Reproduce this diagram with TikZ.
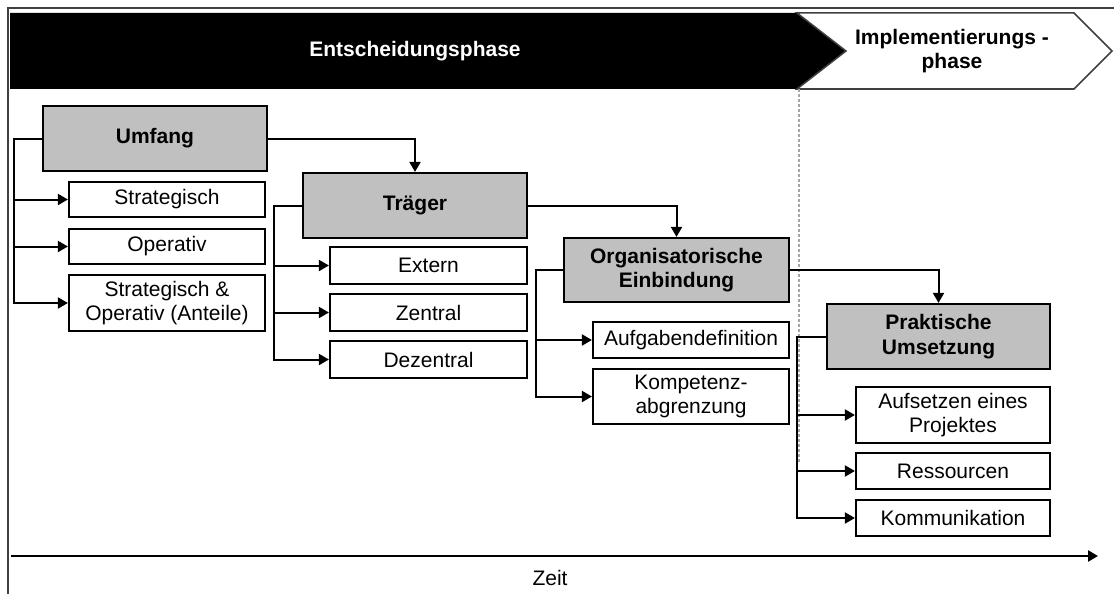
\documentclass[tikz,border=0pt]{standalone}
\usepackage{fontspec}
\setmainfont{Liberation Sans}
\usetikzlibrary{arrows.meta}
\definecolor{boxgray}{HTML}{C0C0C0}
\definecolor{framegray}{HTML}{404040}
\begin{document}
\begin{tikzpicture}[x=1pt,y=-1pt,
  txt/.style={font=\fontsize{21}{24.5}\selectfont},
  box/.style={draw=black, line width=2.2pt, fill=white, minimum width=196pt, inner sep=0pt, align=center, txt},
  head/.style={box, fill=boxgray, minimum width=224pt, minimum height=65pt, font=\bfseries\fontsize{21}{24.5}\selectfont},
  arr/.style={line width=2pt, -{Triangle[length=10pt,width=11pt]}},
]
\useasboundingbox (0,0) rectangle (1114,594);
% frame
\draw[line width=2pt, framegray] (8,594) -- (8,8) -- (1114,8);
% phase bar
\fill[black] (10,13) -- (797,13) -- (846,51) -- (797,89) -- (10,89) -- cycle;
\draw[framegray, line width=1.5pt, fill=white] (797,13) -- (1074,13) -- (1112,51) -- (1074,89) -- (797,89) -- (846,51) -- cycle;
\node[text=white, font=\bfseries\fontsize{21}{24.5}\selectfont] (ent) at (415,51) {Entscheidungsphase};
\node[align=center, font=\bfseries\fontsize{21}{24.5}\selectfont] (imp) at (952,51) {Implementierungs -\\phase};
% divider
\draw[gray!70, densely dashed, line width=1.5pt] (799,89) -- (799,462);

% Umfang
\node[head] (umf) at (155,138.5) {Umfang};
\node[box, minimum height=35pt] (str) at (167,199.5) {Strategisch};
\node[box, minimum height=35pt] (ope) at (167,246.5) {Operativ};
\node[box, minimum height=56pt] (sao) at (167,303) {Strategisch \&\\Operativ (Anteile)};
\foreach \c in {str,ope,sao} \draw[arr] (umf.west) -- ++(-28,0) |- (\c.west);

% Traeger
\node[head] (trg) at (415,205.5) {Träger};
\node[box, minimum width=197pt, minimum height=37pt] (ext) at (428.5,265.5) {Extern};
\node[box, minimum width=197pt, minimum height=37pt] (zen) at (428.5,312.5) {Zentral};
\node[box, minimum width=197pt, minimum height=37pt] (dez) at (428.5,359.5) {Dezentral};
\foreach \c in {ext,zen,dez} \draw[arr] (trg.west) -- ++(-28,0) |- (\c.west);
\draw[arr] (umf.east) -| (trg.north);

% Organisatorische Einbindung
\node[head, minimum width=225pt, minimum height=64pt] (org) at (676.5,270) {Organisatorische\\Einbindung};
\node[box, minimum height=36pt] (auf) at (691,340) {Aufgabendefinition};
\node[box, minimum height=55pt] (kom) at (691,396.5) {Kompetenz-\\abgrenzung};
\foreach \c in {auf,kom} \draw[arr] (org.west) -- ++(-27,0) |- (\c.west);
\draw[arr] (trg.east) -| (org.north);

% Praktische Umsetzung
\node[head, minimum width=223pt] (pra) at (938.5,336.5) {Praktische\\Umsetzung};
\node[box, minimum width=194pt, minimum height=56pt] (afs) at (953,415) {Aufsetzen eines\\Projektes};
\node[box, minimum width=194pt, minimum height=36pt] (res) at (953,471) {Ressourcen};
\node[box, minimum width=194pt, minimum height=36pt] (kmm) at (953,518) {Kommunikation};
\foreach \c in {afs,res,kmm} \draw[arr] (pra.west) -- ++(-29,0) |- (\c.west);
\draw[arr] (org.east) -| (pra.north);

% time axis
\coordinate (t0) at (11,556);
\coordinate (t1) at (1098,556);
\draw[arr, line width=2.4pt] (t0) -- (t1);
\node[txt] (zeit) at (550,578) {Zeit};
\end{tikzpicture}
\end{document}
